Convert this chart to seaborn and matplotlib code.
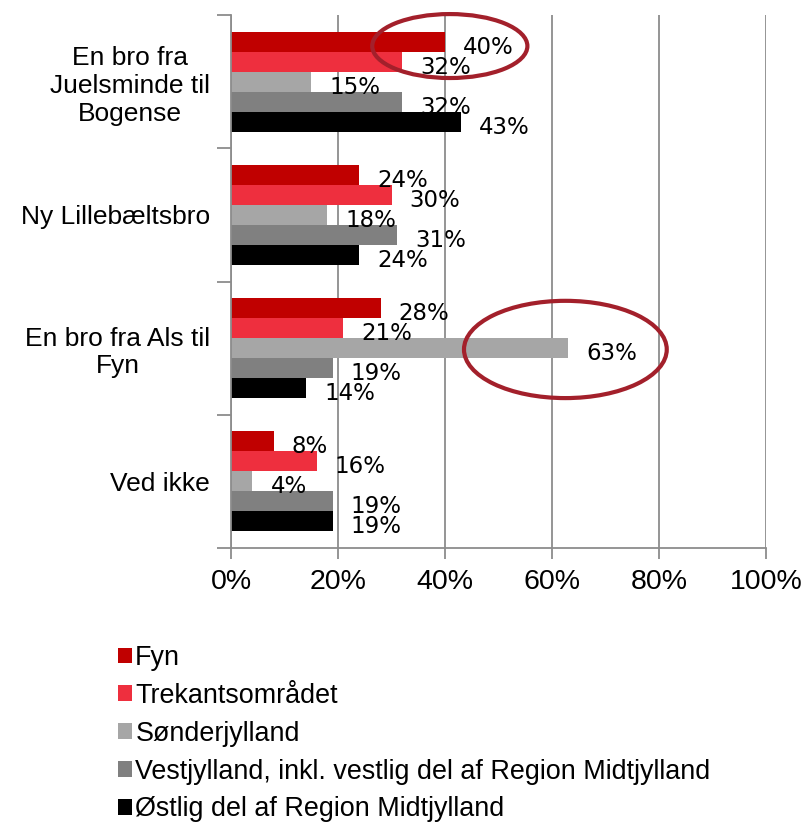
import matplotlib.pyplot as plt
import pandas as pd
import seaborn as sns
from matplotlib.patches import Ellipse
from matplotlib.ticker import FuncFormatter

CATEGORIES = [
    "En bro fra\nJuelsminde til\nBogense",
    "Ny Lillebæltsbro",
    "En bro fra Als til\nFyn",
    "Ved ikke",
]
REGIONS = [
    "Fyn",
    "Trekantsområdet",
    "Sønderjylland",
    "Vestjylland, inkl. vestlig del af Region Midtjylland",
    "Østlig del af Region Midtjylland",
]
fyn = [40, 24, 28, 8]
trekant = [32, 30, 21, 16]
sonderjylland = [15, 18, 63, 4]
vestjylland = [32, 31, 19, 19]
ostjylland = [43, 24, 14, 19]

COLORS = ["#C00000", "#EE2F3E", "#A6A6A6", "#808080", "#000000"]
GRID_COLOR = "#8C8C8C"
RING_COLOR = "#A3202B"

# long format for seaborn
rows = []
for region, values in zip(
    REGIONS, [fyn, trekant, sonderjylland, vestjylland, ostjylland]
):
    for cat, v in zip(CATEGORIES, values):
        rows.append({"category": cat, "region": region, "pct": v})
df = pd.DataFrame(rows)

sns.set_style("white")
plt.rcParams["font.family"] = ["Liberation Sans", "DejaVu Sans"]
plt.rcParams["text.color"] = "black"
plt.rcParams["xtick.color"] = "black"
plt.rcParams["ytick.color"] = "black"

fig = plt.figure(figsize=(8.02, 8.23), dpi=100)
ax = fig.add_axes([231 / 802, 1 - 548 / 823, 535 / 802, 533 / 823])

sns.barplot(
    data=df,
    x="pct",
    y="category",
    hue="region",
    hue_order=REGIONS,
    order=CATEGORIES,
    palette=dict(zip(REGIONS, COLORS)),
    saturation=1,
    orient="h",
    width=0.75,
    linewidth=0,
    errorbar=None,
    ax=ax,
)

handles, labels = ax.get_legend_handles_labels()
ax.get_legend().remove()

# value labels to the right of each bar, nudged down a little
for container in ax.containers:
    for bar in container:
        w = bar.get_width()
        yc = bar.get_y() + bar.get_height() / 2
        ax.annotate(
            f"{w:.0f}%",
            xy=(w, yc),
            xytext=(13, -4),
            textcoords="offset points",
            ha="left",
            va="center",
            fontsize=16.5,
            family="DejaVu Sans",
            color="black",
        )

# highlight rings
ax.add_patch(
    Ellipse((40.9, -0.267), 29.0, 0.48, fill=False, ec=RING_COLOR, lw=3, clip_on=False)
)
ax.add_patch(
    Ellipse((62.5, 2.01), 37.9, 0.73, fill=False, ec=RING_COLOR, lw=3, clip_on=False)
)

ax.set_xlim(0, 100)
ax.set_ylim(3.5, -0.5)
ax.set_xticks([0, 20, 40, 60, 80, 100])
ax.xaxis.set_major_formatter(FuncFormatter(lambda v, _: f"{v:.0f}%"))
ax.set_yticks([-0.5, 0.5, 1.5, 2.5, 3.5], minor=True)
ax.set_xlabel("")
ax.set_ylabel("")

ax.grid(axis="x", color=GRID_COLOR, lw=1.3)
ax.grid(axis="y", visible=False)
ax.set_axisbelow(True)
for side in ["top", "right"]:
    ax.spines[side].set_visible(False)
for side in ["left", "bottom"]:
    ax.spines[side].set_color(GRID_COLOR)
    ax.spines[side].set_linewidth(1.3)

ax.tick_params(axis="x", length=8, width=1.3, color=GRID_COLOR, pad=7,
               labelsize=20.5, labelcolor="black", direction="out", bottom=True)
ax.tick_params(axis="y", which="major", length=0, pad=15, labelsize=19,
               labelcolor="black")
ax.tick_params(axis="y", which="minor", length=10, width=1.3,
               color=GRID_COLOR, direction="out", left=True)
for lbl in ax.get_yticklabels():
    lbl.set_multialignment("center")

fig.legend(
    handles,
    labels,
    loc="upper left",
    bbox_to_anchor=(118 / 802, 1 - 645 / 823),
    frameon=False,
    fontsize=19.4,
    handlelength=0.52,
    handleheight=0.52,
    handletextpad=0.12,
    labelspacing=0.44,
    borderpad=0,
    borderaxespad=0,
)

fig.savefig("out.png", dpi=100)
